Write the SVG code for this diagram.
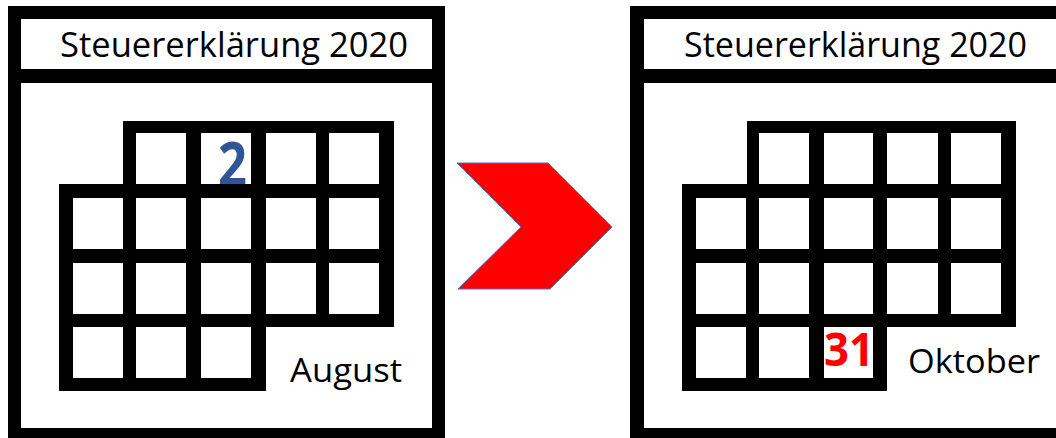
<svg xmlns="http://www.w3.org/2000/svg" width="1056" height="438" viewBox="0 0 1056 438">
<style>
.blk{fill:#000}
.wht{fill:#fff}
.hdr{font-family:"Open Sans","Liberation Sans",sans-serif;font-size:34px;font-weight:500;fill:#000}
.mon{font-family:"Open Sans","Liberation Sans",sans-serif;font-size:32px;font-weight:500;fill:#000}
.day{font-family:"Open Sans","Liberation Sans",sans-serif;font-weight:bold}
</style>
<rect x="0" y="0" width="1056" height="438" fill="#fff"/>
<g id="calendar-august">
<rect class="blk" x="8" y="6" width="437" height="440"/>
<rect class="wht" x="21" y="19" width="411" height="50"/>
<rect class="wht" x="21" y="83" width="411" height="345"/>
<text class="hdr" x="60" y="57" textLength="348" lengthAdjust="spacingAndGlyphs">Steuererklärung 2020</text>
<path class="blk" d="M123 121H394V391H59V184H123Z"/>
<rect class="wht" x="266" y="327" width="130" height="66"/>
<g class="wht">
<rect x="136" y="133" width="50" height="51"/><rect x="201" y="133" width="50" height="51"/><rect x="266" y="133" width="50" height="51"/><rect x="329" y="133" width="50" height="51"/>
<rect x="73" y="198" width="50" height="51"/><rect x="136" y="198" width="50" height="51"/><rect x="201" y="198" width="50" height="51"/><rect x="266" y="198" width="50" height="51"/><rect x="329" y="198" width="50" height="51"/>
<rect x="73" y="263" width="50" height="51"/><rect x="136" y="263" width="50" height="51"/><rect x="201" y="263" width="50" height="51"/><rect x="266" y="263" width="50" height="51"/><rect x="329" y="263" width="50" height="51"/>
<rect x="73" y="327" width="50" height="51"/><rect x="136" y="327" width="50" height="51"/><rect x="201" y="327" width="50" height="51"/>
</g>
<text class="day" x="218" y="186" font-size="60" fill="#2F5597" textLength="29" lengthAdjust="spacingAndGlyphs">2</text>
<rect class="blk" x="59" y="184" width="335" height="14"/>
<text class="mon" x="290" y="382" textLength="112" lengthAdjust="spacingAndGlyphs">August</text>
</g>
<g id="connectors">
<polygon points="457,163 548,163 612,227 550,289 458,289 521,227" fill="#FF0000" stroke="#4472C4" stroke-width="1"/>
</g>
<g id="calendar-oktober">
<rect class="blk" x="630" y="6" width="440" height="440"/>
<rect class="wht" x="644" y="19" width="420" height="50"/>
<rect class="wht" x="644" y="83" width="420" height="345"/>
<text class="hdr" x="684" y="57" textLength="343" lengthAdjust="spacingAndGlyphs">Steuererklärung 2020</text>
<path class="blk" d="M747 121H1016V327H887V391H682V184H747Z"/>
<g class="wht">
<rect x="759" y="133" width="50" height="51"/><rect x="824" y="133" width="49" height="51"/><rect x="887" y="133" width="51" height="51"/><rect x="951" y="133" width="50" height="51"/>
<rect x="696" y="198" width="50" height="51"/><rect x="759" y="198" width="50" height="51"/><rect x="824" y="198" width="49" height="51"/><rect x="887" y="198" width="51" height="51"/><rect x="951" y="198" width="50" height="51"/>
<rect x="696" y="263" width="50" height="51"/><rect x="759" y="263" width="50" height="51"/><rect x="824" y="263" width="49" height="51"/><rect x="887" y="263" width="51" height="51"/><rect x="951" y="263" width="50" height="51"/>
<rect x="696" y="327" width="50" height="51"/><rect x="759" y="327" width="50" height="51"/><rect x="824" y="327" width="49" height="51"/>
</g>
<text class="day" x="824" y="366" font-size="46" fill="#FF0000" textLength="50" lengthAdjust="spacingAndGlyphs">31</text>
<text class="mon" x="908" y="373" textLength="132" lengthAdjust="spacingAndGlyphs">Oktober</text>
</g>
</svg>
